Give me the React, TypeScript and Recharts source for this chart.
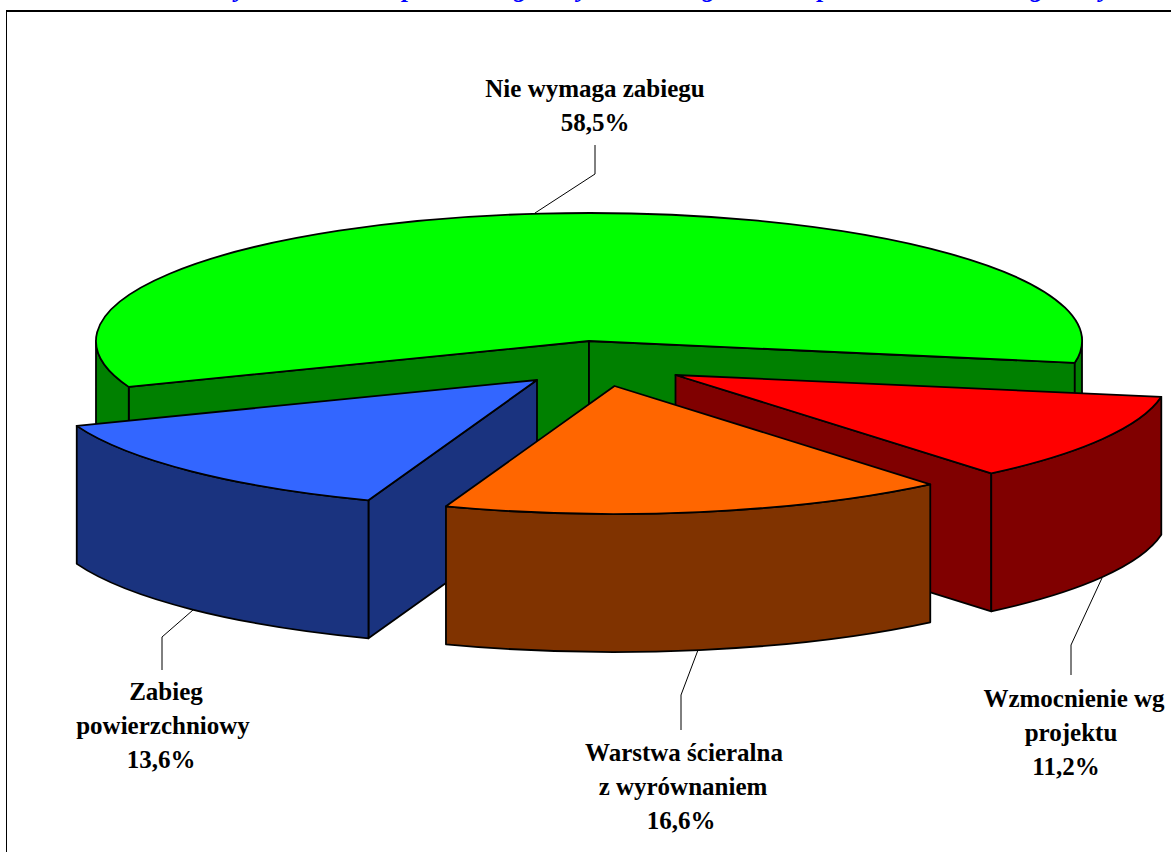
import { PieChart, Pie } from 'recharts';

// Pie cut into four pulled-out wedges, drawn as tilted 3D blocks
const names = ['Nie wymaga zabiegu', 'Wzmocnienie wg projektu', 'Warstwa ścieralna z wyrównaniem', 'Zabieg powierzchniowy'];
const values = [58.5, 11.2, 16.6, 13.6];
const labelLines = [
  ['Nie wymaga zabiegu'],
  ['Wzmocnienie wg', 'projektu'],
  ['Warstwa ścieralna', 'z wyrównaniem'],
  ['Zabieg', 'powierzchniowy'],
];
// the title is cut off by the top of the picture, only its descenders show: wording is a guess
const titleText = 'Procentowy udział sieci w podziale wg klasy oraz zabiegu w skali powiatu w całości wg liczby';

const tableData = names.map((name, i) => ({ name, value: values[i], lines: labelLines[i] }));

const FONT = '"Liberation Serif", "Times New Roman", serif';
const CX = 589;
const CY = 341;
const RX = 493;
const RY = 128;
const DEPTH = 138;
const RAD = Math.PI / 180;

const sliceStyles: Record<string, any> = {
  [names[0]]: { top: '#00ff00', side: '#008000', dx: 0, dy: 0 },
  [names[1]]: { top: '#ff0000', side: '#800000', dx: 86.5, dy: 34 },
  [names[2]]: { top: '#ff6600', side: '#803300', dx: 25.5, dy: 45 },
  [names[3]]: { top: '#3366ff', side: '#1a337f', dx: -52, dy: 39 },
};

const labelStyles: Record<string, any> = {
  [names[0]]: { y: 97, xs: [595], pct: 595, leader: '595,145 595,174 535,213' },
  [names[1]]: { y: 707, xs: [1074, 1071], pct: 1066, leader: '1071,675 1071,645 1102,578' },
  [names[2]]: { y: 761, xs: [684, 683], pct: 681, leader: '681,730 681,695 698,650' },
  [names[3]]: { y: 700, xs: [166, 163], pct: 161, leader: '162,670 162,637 193,610' },
};

const WedgeShape = (props: any) => {
  const s = sliceStyles[props.name];
  if (!s) return <g />;
  const ax = props.cx + s.dx;
  const ay = props.cy + s.dy;
  const ratio = RY / RX;
  const rx = props.outerRadius;
  const ry = rx * ratio;
  const pt = (deg: number, drop = 0) =>
    `${ax + rx * Math.cos(deg * RAD)} ${ay - ry * Math.sin(deg * RAD) + drop}`;
  const start = props.startAngle;
  const end = props.endAngle;
  const sx = ax + rx * Math.cos(start * RAD);
  const ex = ax + rx * Math.cos(end * RAD);
  const large = start - end > 180 ? 1 : 0;

  const walls: string[] = [];
  // flat cut faces that look towards the viewer
  if (sx < ax) walls.push(`M ${ax} ${ay} L ${pt(start)} L ${pt(start, DEPTH)} L ${ax} ${ay + DEPTH} Z`);
  if (ex > ax) walls.push(`M ${ax} ${ay} L ${pt(end)} L ${pt(end, DEPTH)} L ${ax} ${ay + DEPTH} Z`);
  // rounded outer wall, only on the front half of the ellipse
  [360, 0].forEach((base) => {
    const hi = Math.min(start, base);
    const lo = Math.max(end, base - 180);
    if (lo < hi) {
      walls.push(
        `M ${pt(hi)} A ${rx} ${ry} 0 0 1 ${pt(lo)} L ${pt(lo, DEPTH)} A ${rx} ${ry} 0 0 0 ${pt(hi, DEPTH)} Z`
      );
    }
  });

  return (
    <g>
      {walls.map((d, i) => (
        <path key={i} d={d} fill={s.side} stroke="#000" strokeWidth={1.8} strokeLinejoin="round" />
      ))}
      <path
        d={`M ${ax} ${ay} L ${pt(start)} A ${rx} ${ry} 0 ${large} 1 ${pt(end)} Z`}
        fill={s.top}
        stroke="#000"
        strokeWidth={1.8}
        strokeLinejoin="round"
      />
    </g>
  );
};

// orange wedge sits over the blue one, so it goes in a second pass
const backShape = (props: any) => (props.name === names[2] ? <g /> : <WedgeShape {...props} />);
const frontShape = (props: any) => (props.name === names[2] ? <WedgeShape {...props} /> : <g />);

const renderLabel = (props: any) => {
  const l = labelStyles[props.name];
  const row = tableData.find((d) => d.name === props.name);
  if (!l || !row) return null;
  return (
    <g>
      <polyline points={l.leader} fill="none" stroke="#000" strokeWidth={1} />
      {row.lines.map((t, i) => (
        <text key={t} x={l.xs[i]} y={l.y + i * 34} textAnchor="middle" fontFamily={FONT} fontWeight="bold" fontSize={25} fill="#000">
          {t}
        </text>
      ))}
      <text x={l.pct} y={l.y + row.lines.length * 34} textAnchor="middle" fontFamily={FONT} fontWeight="bold" fontSize={25} fill="#000">
        {row.value.toFixed(1).replace('.', ',')}%
      </text>
    </g>
  );
};

export default function App() {
  const pieProps = {
    data: tableData,
    dataKey: 'value',
    nameKey: 'name',
    cx: CX,
    cy: CY,
    innerRadius: 0,
    outerRadius: RX,
    startAngle: 201,
    endAngle: -159,
    isAnimationActive: false,
    stroke: 'none',
  };
  return (
    <div style={{ position: 'absolute', left: 0, top: 0, width: 1171, height: 852, overflow: 'hidden', background: '#fff' }}>
      <div style={{ position: 'absolute', left: 6, top: 10, right: -4, bottom: -4, borderTop: '2px solid #000', borderLeft: '1px solid #000' }} />
      <div style={{ position: 'absolute', left: 0, top: 0 }}>
        <PieChart width={1171} height={852} margin={{ top: 0, right: 0, bottom: 0, left: 0 }}>
          <text x={121} y={-3} fontFamily={FONT} fontWeight="bold" fontStyle="italic" fontSize={26} fill="#0000ff">
            {titleText}
          </text>
          <Pie {...pieProps} shape={backShape} labelLine={false} label={false} />
          <Pie {...pieProps} shape={frontShape} labelLine={false} label={renderLabel} />
        </PieChart>
      </div>
    </div>
  );
}
